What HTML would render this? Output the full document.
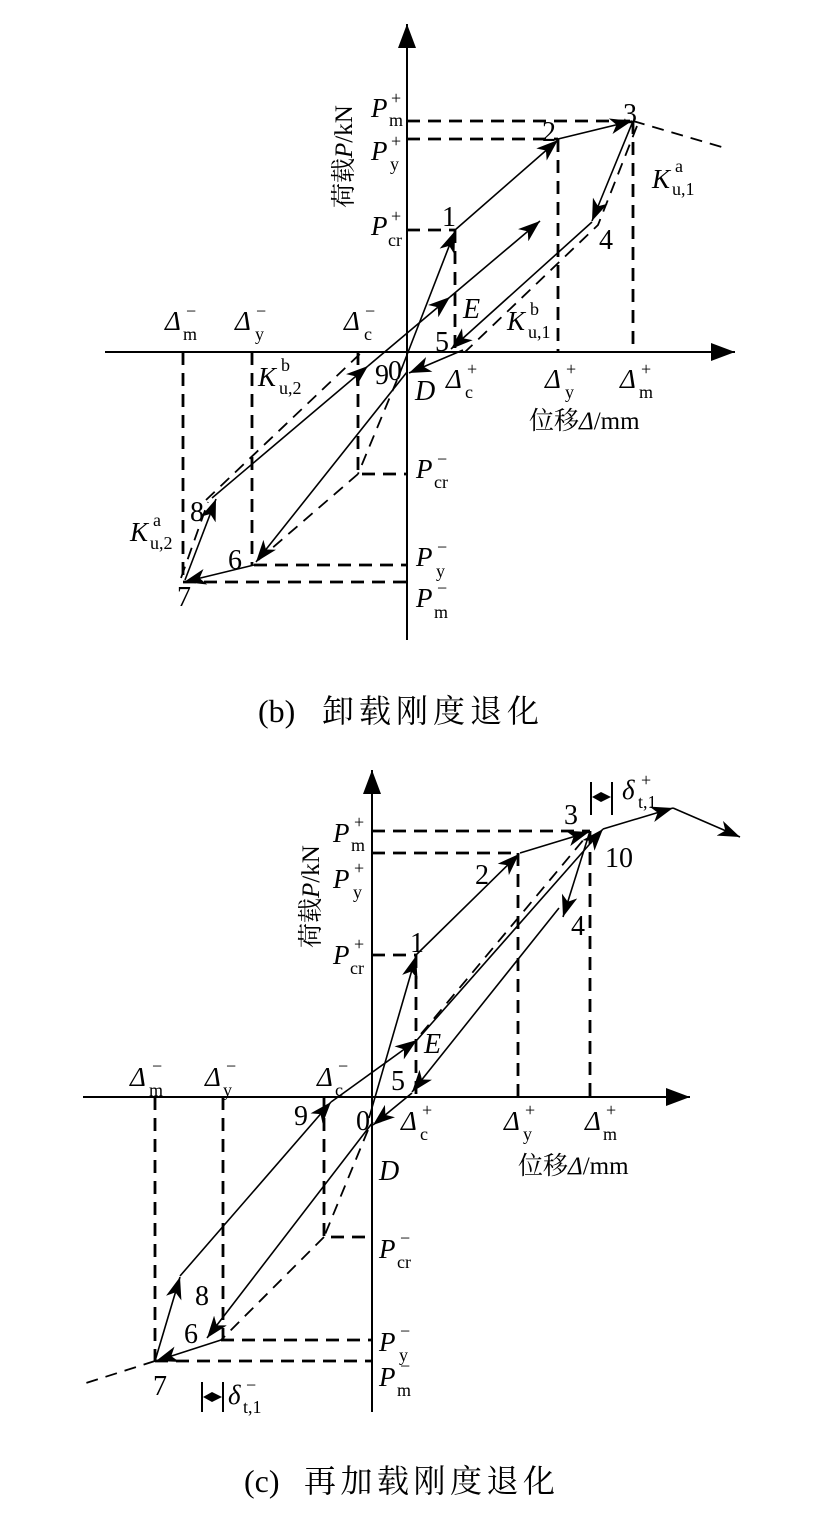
<!DOCTYPE html>
<html><head><meta charset="utf-8"><style>
html,body{margin:0;padding:0;background:#fff;}
svg{display:block;}
text{font-family:"Liberation Serif","Noto Serif CJK SC","Noto Sans CJK SC",serif;fill:#000;}
.m{font-size:27px;}
.i{font-style:italic;}
.s{font-size:18px;}
.n{font-size:28px;}
.cap{font-size:32px;}
.sol{stroke:#000;stroke-width:1.6;fill:none;}
.das{stroke:#000;stroke-width:2.8;fill:none;stroke-dasharray:13 8;}
.dt{stroke:#000;stroke-width:1.8;fill:none;stroke-dasharray:12 8;}
.ax{stroke:#000;stroke-width:2;fill:none;}
</style></head><body>
<svg width="830" height="1525" viewBox="0 0 830 1525" xmlns="http://www.w3.org/2000/svg">
<defs>
<marker id="a" markerUnits="userSpaceOnUse" markerWidth="24" markerHeight="16" refX="22" refY="8" orient="auto"><path d="M0,0 L22,8 L0,16 L6,8 Z" fill="#000"/></marker>
<marker id="ab" markerUnits="userSpaceOnUse" markerWidth="26" markerHeight="18" refX="24" refY="9" orient="auto"><path d="M0,0 L24,9 L0,18 Z" fill="#000"/></marker>
</defs>

<!-- ===== TOP (b) ===== -->
<line class="ax" x1="407" y1="640" x2="407" y2="24" marker-end="url(#ab)"/>
<line class="ax" x1="105" y1="352" x2="735" y2="352" marker-end="url(#ab)"/>
<path class="das" d="M407,121 H633 M407,139 H558 M407,230 H455 M633,121 V352 M558,139 V352 M455,230 V352 M183,352 V582 M252,352 V565 M254,565 H407 M183,582 H407 M358,352 V474 H407"/>
<path class="dt" d="M633,121 L725,148 M397,380 L358,474 M358,474 L256,562 M637,126 L598,225 L465,352 M181,578 L208,502 M206,500 L362,352"/>
<line class="sol" x1="398" y1="378" x2="455" y2="231" marker-end="url(#a)"/>
<line class="sol" x1="455" y1="230" x2="558" y2="140" marker-end="url(#a)"/>
<line class="sol" x1="558" y1="139" x2="632" y2="121" marker-end="url(#a)"/>
<line class="sol" x1="633" y1="121" x2="592" y2="221" marker-end="url(#a)"/>
<line class="sol" x1="592" y1="222" x2="451" y2="349" marker-end="url(#a)"/>
<line class="sol" x1="463" y1="350" x2="409" y2="373" marker-end="url(#a)"/>
<line class="sol" x1="407" y1="372" x2="256" y2="562" marker-end="url(#a)"/>
<line class="sol" x1="254" y1="565" x2="184" y2="582" marker-end="url(#a)"/>
<line class="sol" x1="185" y1="580" x2="216" y2="499" marker-end="url(#a)"/>
<line class="sol" x1="212" y1="498" x2="368" y2="366" marker-end="url(#a)"/>
<line class="sol" x1="368" y1="366" x2="450" y2="297" marker-end="url(#a)"/>
<line class="sol" x1="450" y1="297" x2="540" y2="221" marker-end="url(#a)"/>

<text class="m i" x="371" y="117">P</text><text class="s" x="391" y="104">+</text><text class="s" x="389" y="126">m</text>
<text class="m i" x="371" y="160">P</text><text class="s" x="391" y="147">+</text><text class="s" x="390" y="170">y</text>
<text class="m i" x="371" y="235">P</text><text class="s" x="391" y="222">+</text><text class="s" x="388" y="246">cr</text>
<text class="m i" x="416" y="478">P</text><text class="s" x="437" y="465">−</text><text class="s" x="434" y="488">cr</text>
<text class="m i" x="416" y="566">P</text><text class="s" x="437" y="553">−</text><text class="s" x="436" y="577">y</text>
<text class="m i" x="416" y="607">P</text><text class="s" x="437" y="594">−</text><text class="s" x="434" y="618">m</text>
<text class="m i" x="165" y="330">Δ</text><text class="s" x="186" y="317">−</text><text class="s" x="183" y="340">m</text>
<text class="m i" x="235" y="330">Δ</text><text class="s" x="256" y="317">−</text><text class="s" x="255" y="340">y</text>
<text class="m i" x="344" y="330">Δ</text><text class="s" x="365" y="317">−</text><text class="s" x="364" y="340">c</text>
<text class="m i" x="446" y="388">Δ</text><text class="s" x="467" y="375">+</text><text class="s" x="465" y="398">c</text>
<text class="m i" x="545" y="388">Δ</text><text class="s" x="566" y="375">+</text><text class="s" x="565" y="398">y</text>
<text class="m i" x="620" y="388">Δ</text><text class="s" x="641" y="375">+</text><text class="s" x="639" y="398">m</text>
<text x="529" y="429" style="font-size:25px">位移<tspan font-style="italic">Δ</tspan>/mm</text>
<text x="0" y="0" style="font-size:25px" transform="translate(352,208) rotate(-90)">荷载<tspan font-style="italic">P</tspan>/kN</text>
<text class="m i" x="652" y="188">K</text><text class="s" x="675" y="172">a</text><text class="s" x="672" y="195">u,1</text>
<text class="m i" x="507" y="330">K</text><text class="s" x="530" y="315">b</text><text class="s" x="528" y="338">u,1</text>
<text class="m i" x="258" y="386">K</text><text class="s" x="281" y="371">b</text><text class="s" x="279" y="394">u,2</text>
<text class="m i" x="130" y="541">K</text><text class="s" x="153" y="526">a</text><text class="s" x="150" y="549">u,2</text>
<text class="n" x="442" y="226">1</text>
<text class="n" x="542" y="141">2</text>
<text class="n" x="623" y="123">3</text>
<text class="n" x="599" y="249">4</text>
<text class="n" x="435" y="351">5</text>
<text class="n" x="228" y="569">6</text>
<text class="n" x="177" y="606">7</text>
<text class="n" x="190" y="521">8</text>
<text class="n" x="375" y="384">9</text>
<text class="n" x="388" y="380">0</text>
<text class="n i" x="415" y="400">D</text>
<text class="n i" x="463" y="318">E</text>
<text class="cap" x="258" y="722">(b)<tspan x="322" letter-spacing="5">卸载刚度退化</tspan></text>

<!-- ===== BOTTOM (c) ===== -->
<line class="ax" x1="372" y1="1412" x2="372" y2="770" marker-end="url(#ab)"/>
<line class="ax" x1="83" y1="1097" x2="690" y2="1097" marker-end="url(#ab)"/>
<path class="das" d="M372,831 H590 M372,853 H518 M372,955 H416 M590,831 V1097 M518,853 V1097 M416,955 V1097 M155,1097 V1361 M223,1097 V1340 M221,1340 H372 M155,1361 H372 M324,1097 V1237 H372"/>
<path class="dt" d="M368,1130 L324,1237 M324,1237 L221,1340 M155,1361 L83,1384 M421,1034 L585,838"/>
<line class="sol" x1="369" y1="1118" x2="416" y2="956" marker-end="url(#a)"/>
<line class="sol" x1="416" y1="955" x2="519" y2="854" marker-end="url(#a)"/>
<line class="sol" x1="520" y1="853" x2="589" y2="832" marker-end="url(#a)"/>
<line class="sol" x1="590" y1="831" x2="563" y2="917" marker-end="url(#a)"/>
<line class="sol" x1="559" y1="908" x2="412" y2="1092" marker-end="url(#a)"/>
<line class="sol" x1="412" y1="1093" x2="373" y2="1125" marker-end="url(#a)"/>
<line class="sol" x1="373" y1="1122" x2="207" y2="1338" marker-end="url(#a)"/>
<line class="sol" x1="221" y1="1340" x2="156" y2="1361" marker-end="url(#a)"/>
<line class="sol" x1="155" y1="1361" x2="180" y2="1277" marker-end="url(#a)"/>
<line class="sol" x1="180" y1="1276" x2="331" y2="1102" marker-end="url(#a)"/>
<path class="sol" d="M331,1102 L338,1097"/>
<line class="sol" x1="338" y1="1097" x2="417" y2="1040" marker-end="url(#a)"/>
<line class="sol" x1="417" y1="1040" x2="603" y2="829" marker-end="url(#a)"/>
<line class="sol" x1="603" y1="829" x2="673" y2="808" marker-end="url(#a)"/>
<line class="sol" x1="673" y1="808" x2="740" y2="837" marker-end="url(#a)"/>
<path class="sol" d="M591,782 V815 M612,782 V815 M202,1382 V1412 M223,1382 V1412" style="stroke-width:2"/>
<path d="M592,797 L601,792 L611,797 L601,802 Z M203,1397 L212,1392 L222,1397 L212,1402 Z" fill="#000"/>

<text class="m i" x="333" y="842">P</text><text class="s" x="354" y="828">+</text><text class="s" x="351" y="851">m</text>
<text class="m i" x="333" y="888">P</text><text class="s" x="354" y="874">+</text><text class="s" x="353" y="898">y</text>
<text class="m i" x="333" y="964">P</text><text class="s" x="354" y="950">+</text><text class="s" x="350" y="974">cr</text>
<text class="m i" x="379" y="1258">P</text><text class="s" x="400" y="1244">−</text><text class="s" x="397" y="1268">cr</text>
<text class="m i" x="379" y="1351">P</text><text class="s" x="400" y="1337">−</text><text class="s" x="399" y="1361">y</text>
<text class="m i" x="379" y="1386">P</text><text class="s" x="400" y="1372">−</text><text class="s" x="397" y="1396">m</text>
<text class="m i" x="130" y="1086">Δ</text><text class="s" x="152" y="1072">−</text><text class="s" x="149" y="1096">m</text>
<text class="m i" x="205" y="1086">Δ</text><text class="s" x="226" y="1072">−</text><text class="s" x="223" y="1096">y</text>
<text class="m i" x="317" y="1086">Δ</text><text class="s" x="338" y="1072">−</text><text class="s" x="335" y="1096">c</text>
<text class="m i" x="401" y="1130">Δ</text><text class="s" x="422" y="1116">+</text><text class="s" x="420" y="1140">c</text>
<text class="m i" x="504" y="1130">Δ</text><text class="s" x="525" y="1116">+</text><text class="s" x="523" y="1140">y</text>
<text class="m i" x="585" y="1130">Δ</text><text class="s" x="606" y="1116">+</text><text class="s" x="603" y="1140">m</text>
<text x="518" y="1174" style="font-size:25px">位移<tspan font-style="italic">Δ</tspan>/mm</text>
<text x="0" y="0" style="font-size:25px" transform="translate(319,948) rotate(-90)">荷载<tspan font-style="italic">P</tspan>/kN</text>
<text class="m i" x="622" y="799">δ</text><text class="s" x="641" y="786">+</text><text class="s" x="638" y="808">t,1</text>
<text class="m i" x="228" y="1404">δ</text><text class="s" x="246" y="1391">−</text><text class="s" x="243" y="1413">t,1</text>
<text class="n" x="564" y="824">3</text>
<text class="n" x="475" y="884">2</text>
<text class="n" x="410" y="952">1</text>
<text class="n" x="571" y="935">4</text>
<text class="n" x="605" y="867">10</text>
<text class="n" x="391" y="1090">5</text>
<text class="n i" x="424" y="1053">E</text>
<text class="n" x="294" y="1125">9</text>
<text class="n" x="356" y="1130">0</text>
<text class="n i" x="379" y="1180">D</text>
<text class="n" x="195" y="1305">8</text>
<text class="n" x="184" y="1343">6</text>
<text class="n" x="153" y="1395">7</text>
<text class="cap" x="244" y="1492">(c)<tspan x="304" letter-spacing="4.5">再加载刚度退化</tspan></text>
</svg>
</body></html>
